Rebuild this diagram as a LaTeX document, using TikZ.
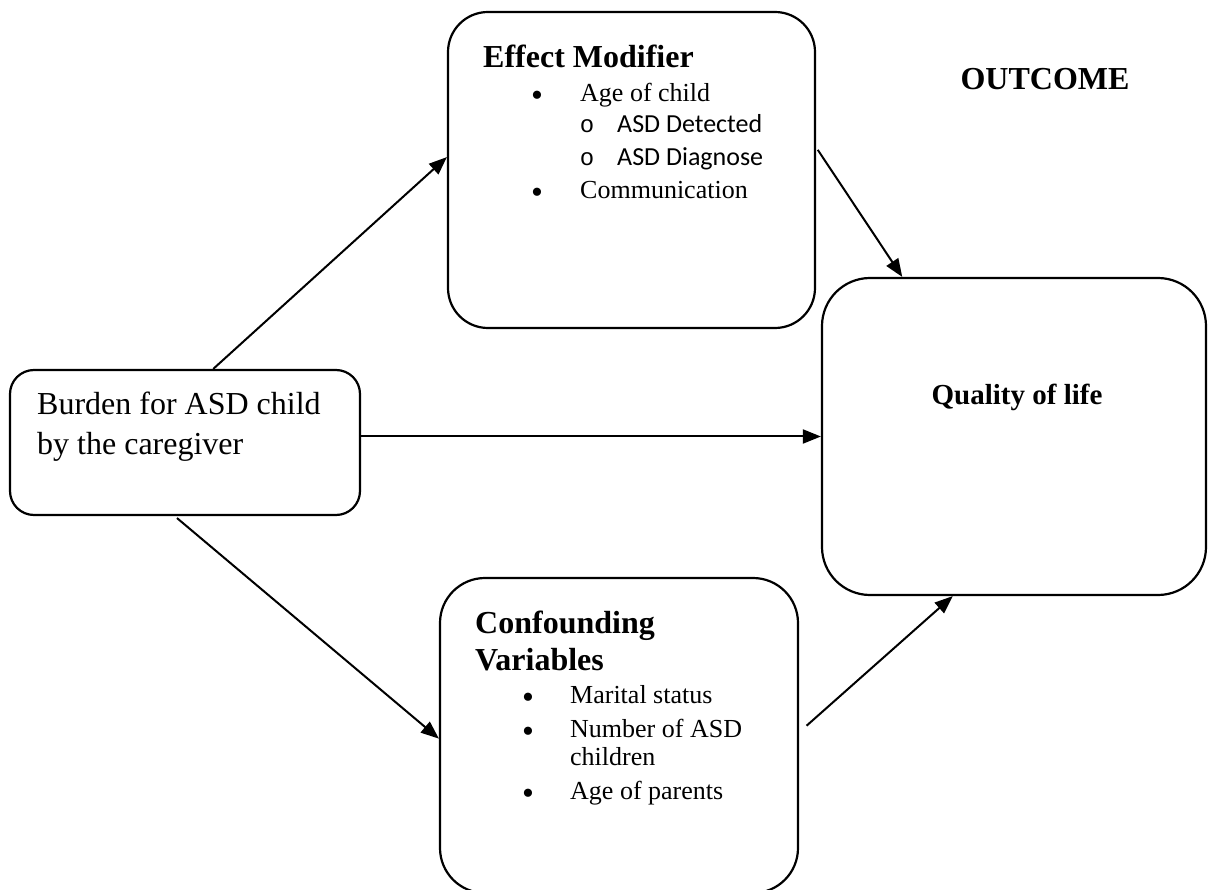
\documentclass[tikz,border=0pt]{standalone}
\usepackage{fontspec}
\setmainfont{Liberation Serif}
\newfontfamily\subfont{Carlito}
\newfontfamily\markfont{Liberation Mono}
\usetikzlibrary{arrows.meta}
\tikzstyle{var_box}=[draw=black, line width=2.2pt, rectangle, inner sep=0pt]
\tikzstyle{var_title}=[anchor=base west, inner sep=0pt, font=\fontsize{32}{34}\selectfont\bfseries]
\tikzstyle{var_text}=[anchor=base west, inner sep=0pt, font=\fontsize{32}{34}\selectfont]
\tikzstyle{var_item}=[anchor=base west, inner sep=0pt, font=\fontsize{26}{28}\selectfont]
\tikzstyle{var_sub}=[anchor=base west, inner sep=0pt, font=\fontsize{26}{28}\subfont]
\tikzstyle{var_dot}=[anchor=base, inner sep=0pt, yshift=-5pt, font=\fontsize{34}{34}\selectfont]
\tikzstyle{var_ring}=[anchor=base, inner sep=0pt, font=\fontsize{24}{24}\markfont]
\tikzstyle{var_arrow}=[line width=2pt, -{Triangle[length=18pt,width=14pt]}]

\begin{document}
\begin{tikzpicture}[x=1pt,y=-1pt]
\useasboundingbox (0,0) rectangle (1208,890);
% boxes
\node[var_box, minimum width=350pt, minimum height=145pt, rounded corners=24pt] (burden) at (185,442.5){};
\node[var_box, minimum width=367pt, minimum height=316pt, rounded corners=40pt] (effect) at (631.5,170){};
\node[var_box, minimum width=358pt, minimum height=315pt, rounded corners=45pt] (confound) at (619,735.5){};
\node[var_box, minimum width=384pt, minimum height=317pt, rounded corners=48pt] (quality) at (1014,436.5){};
% exposure
\node[var_text] (burden1) at (37,415){Burden for ASD child};
\node[var_text] (burden2) at (37,455){by the caregiver};
% effect modifier
\node[var_title] (efftitle) at (483,68){Effect Modifier};
\node[var_dot] (effdot1) at (537,102){•};
\node[var_item] (effitem1) at (580,102){Age of child};
\node[var_ring] (effring1) at (587,133){o};
\node[var_sub] (effsub1) at (617,133){ASD Detected};
\node[var_ring] (effring2) at (587,166){o};
\node[var_sub] (effsub2) at (617,166){ASD Diagnose};
\node[var_dot] (effdot2) at (537,199){•};
\node[var_item] (effitem2) at (580,199){Communication};
% confounders
\node[var_title] (conftitle1) at (475,633){Confounding};
\node[var_title] (conftitle2) at (475,670){Variables};
\node[var_dot] (confdot1) at (528,703){•};
\node[var_item] (confitem1) at (570,703){Marital status};
\node[var_dot] (confdot2) at (528,737){•};
\node[var_item] (confitem2) at (570,737){Number of ASD};
\node[var_item] (confitem2b) at (570,765){children};
\node[var_dot] (confdot3) at (528,799){•};
\node[var_item] (confitem3) at (570,799){Age of parents};
% outcome
\node[anchor=base, inner sep=0pt, font=\fontsize{32}{34}\selectfont\bfseries] (outcome) at (1045,90){OUTCOME};
\node[anchor=base, inner sep=0pt, font=\fontsize{29}{31}\selectfont\bfseries] (qol) at (1017,405){Quality of life};
% arrows
\draw[var_arrow](burden.69) -- (effect.176);
\draw[var_arrow, shorten <=3pt](effect.7) -- (quality.125);
\draw[var_arrow](burden.east |- quality.west) -- (quality.west);
\draw[var_arrow, shorten <=3pt](burden.262) -- (confound.181);
\draw[var_arrow, shorten <=10pt](confound.1) -- (quality.249);
\end{tikzpicture}
\end{document}
